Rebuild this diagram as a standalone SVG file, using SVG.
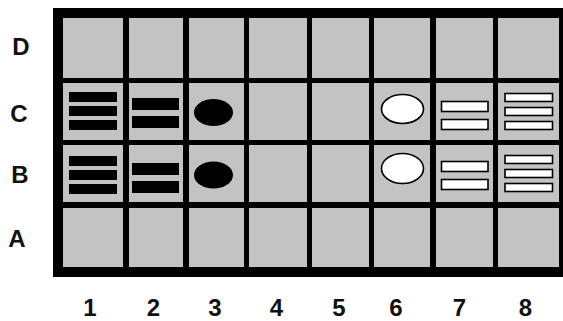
<svg xmlns="http://www.w3.org/2000/svg" width="563" height="321" viewBox="0 0 563 321">
<style>
.cell{fill:#c3c3c3}
.lbl{font-family:"Liberation Sans",Arial,sans-serif;font-weight:bold;font-size:24px;fill:#111;text-anchor:middle}
.bk{fill:#000}
.wt{fill:#fff;stroke:#000;stroke-width:1.6}
</style>
<rect width="563" height="321" fill="#fff"/>
<g id="board">
<rect x="53" y="8" width="510" height="269" fill="#000"/>
</g>
<g id="rowD">
<rect class="cell" x="63" y="18" width="60" height="60"/>
<rect class="cell" x="129" y="18" width="54" height="60"/>
<rect class="cell" x="189" y="18" width="55" height="60"/>
<rect class="cell" x="249" y="18" width="58" height="60"/>
<rect class="cell" x="312" y="18" width="57" height="60"/>
<rect class="cell" x="374" y="18" width="56" height="60"/>
<rect class="cell" x="436" y="18" width="57" height="60"/>
<rect class="cell" x="498" y="18" width="61" height="60"/>
</g>
<g id="rowC">
<rect class="cell" x="63" y="83" width="60" height="57"/>
<rect class="cell" x="129" y="83" width="54" height="57"/>
<rect class="cell" x="189" y="83" width="55" height="57"/>
<rect class="cell" x="249" y="83" width="58" height="57"/>
<rect class="cell" x="312" y="83" width="57" height="57"/>
<rect class="cell" x="374" y="83" width="56" height="57"/>
<rect class="cell" x="436" y="83" width="57" height="57"/>
<rect class="cell" x="498" y="83" width="61" height="57"/>
</g>
<g id="rowB">
<rect class="cell" x="63" y="145" width="60" height="57"/>
<rect class="cell" x="129" y="145" width="54" height="57"/>
<rect class="cell" x="189" y="145" width="55" height="57"/>
<rect class="cell" x="249" y="145" width="58" height="57"/>
<rect class="cell" x="312" y="145" width="57" height="57"/>
<rect class="cell" x="374" y="145" width="56" height="57"/>
<rect class="cell" x="436" y="145" width="57" height="57"/>
<rect class="cell" x="498" y="145" width="61" height="57"/>
</g>
<g id="rowA">
<rect class="cell" x="63" y="208" width="60" height="59"/>
<rect class="cell" x="129" y="208" width="54" height="59"/>
<rect class="cell" x="189" y="208" width="55" height="59"/>
<rect class="cell" x="249" y="208" width="58" height="59"/>
<rect class="cell" x="312" y="208" width="57" height="59"/>
<rect class="cell" x="374" y="208" width="56" height="59"/>
<rect class="cell" x="436" y="208" width="57" height="59"/>
<rect class="cell" x="498" y="208" width="61" height="59"/>
</g>
<g id="C1">
<rect class="bk" x="69" y="92" width="48" height="10"/>
<rect class="bk" x="69" y="106" width="48" height="10"/>
<rect class="bk" x="69" y="120" width="48" height="10"/>
</g>
<g id="C2">
<rect class="bk" x="132" y="98" width="47" height="12"/>
<rect class="bk" x="132" y="116" width="47" height="12"/>
</g>
<g id="C3"><ellipse class="bk" cx="213.5" cy="112.5" rx="19.5" ry="13.5"/></g>
<g id="C6"><ellipse class="wt" cx="402.5" cy="109" rx="21" ry="14.5"/></g>
<g id="C7">
<rect class="wt" x="441.5" y="101.5" width="46.5" height="10"/>
<rect class="wt" x="441.5" y="119.5" width="46.5" height="10"/>
</g>
<g id="C8">
<rect class="wt" x="505" y="93.5" width="47.5" height="8"/>
<rect class="wt" x="505" y="107.5" width="47.5" height="8"/>
<rect class="wt" x="505" y="121.5" width="47.5" height="8"/>
</g>
<g id="B1">
<rect class="bk" x="69" y="156" width="48" height="10"/>
<rect class="bk" x="69" y="170" width="48" height="10"/>
<rect class="bk" x="69" y="184" width="48" height="10"/>
</g>
<g id="B2">
<rect class="bk" x="132" y="163" width="47" height="12"/>
<rect class="bk" x="132" y="181" width="47" height="12"/>
</g>
<g id="B3"><ellipse class="bk" cx="213.5" cy="175" rx="19.5" ry="13.5"/></g>
<g id="B6"><ellipse class="wt" cx="402.5" cy="168.5" rx="21" ry="15"/></g>
<g id="B7">
<rect class="wt" x="441.5" y="161.5" width="46.5" height="10"/>
<rect class="wt" x="441.5" y="179.5" width="46.5" height="10"/>
</g>
<g id="B8">
<rect class="wt" x="505" y="155.5" width="47.5" height="8"/>
<rect class="wt" x="505" y="169.5" width="47.5" height="8"/>
<rect class="wt" x="505" y="183.5" width="47.5" height="8"/>
</g>
<g id="rowLabels">
<text class="lbl" x="21" y="55">D</text>
<text class="lbl" x="19" y="122">C</text>
<text class="lbl" x="20" y="183">B</text>
<text class="lbl" x="17" y="247">A</text>
</g>
<g id="colLabels">
<text class="lbl" x="90" y="316">1</text>
<text class="lbl" x="153.5" y="316">2</text>
<text class="lbl" x="215" y="316">3</text>
<text class="lbl" x="276.5" y="316">4</text>
<text class="lbl" x="339" y="316">5</text>
<text class="lbl" x="396" y="316">6</text>
<text class="lbl" x="459.5" y="316">7</text>
<text class="lbl" x="525.5" y="316">8</text>
</g>
</svg>
